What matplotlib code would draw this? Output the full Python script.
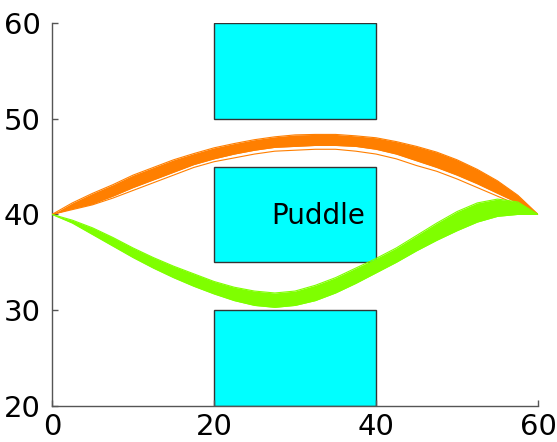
import numpy as np
import matplotlib
matplotlib.use('Agg')
import matplotlib.pyplot as plt
from matplotlib.patches import Rectangle

# sample positions along the course
x = np.arange(0, 60.01, 2.5)

# orange bundle (path above the puddle)
orange_top = [40.0, 41.2, 42.2, 43.1, 44.1, 44.9, 45.7, 46.35, 46.95, 47.4, 47.8, 48.1, 48.3,
              48.35, 48.35, 48.2, 48.0, 47.6, 47.1, 46.5, 45.7, 44.7, 43.5, 42.0, 40.0]
orange_bottom = [40.0, 40.6, 41.1, 41.9, 42.8, 43.6, 44.4, 45.2, 45.8, 46.3, 46.7, 47.0, 47.1,
                 47.2, 47.2, 47.1, 46.8, 46.3, 45.6, 44.9, 44.1, 43.2, 42.2, 41.2, 40.0]
orange_strand = [40.0, 40.5, 41.0, 41.7, 42.5, 43.3, 44.1, 44.9, 45.5, 45.9, 46.3, 46.6, 46.7,
                 46.8, 46.8, 46.6, 46.3, 45.8, 45.1, 44.5, 43.7, 42.8, 41.9, 41.0, 40.0]

# green bundle (path below the puddle)
green_top = [40.0, 39.4, 38.6, 37.6, 36.5, 35.5, 34.6, 33.8, 33.0, 32.4, 32.0, 31.8, 32.0,
             32.6, 33.4, 34.4, 35.4, 36.5, 37.8, 39.1, 40.3, 41.2, 41.6, 41.3, 40.0]
green_bottom = [40.0, 39.1, 37.9, 36.7, 35.5, 34.4, 33.4, 32.5, 31.7, 31.0, 30.5, 30.3, 30.5,
                31.0, 31.8, 32.8, 33.9, 35.0, 36.2, 37.3, 38.3, 39.2, 39.8, 40.0, 40.0]

# obstacles: (x0, y0, width, height)
obstacles = [(20, 50, 20, 10), (20, 35, 20, 10), (20, 20, 20, 10)]
label = 'Puddle'

fig = plt.figure(figsize=(5.57, 4.42), dpi=100)
ax = fig.add_axes([0.0934, 0.0814, 0.8726, 0.867])

for (x0, y0, w, h) in obstacles:
    ax.add_patch(Rectangle((x0, y0), w, h, facecolor='#00ffff', edgecolor='#333333',
                           linewidth=1.0, zorder=1))
ax.text(38.7, 39.8, label, fontsize=20, ha='right', va='center', zorder=2)

orange = '#ff7f00'
green = '#7fff00'
ax.fill_between(x, orange_bottom, orange_top, color=orange, linewidth=0, zorder=3)
ax.plot(x, orange_top, color=orange, lw=0.8, zorder=3)
ax.plot(x, orange_bottom, color=orange, lw=0.8, zorder=3)
ax.plot(x, orange_strand, color=orange, lw=0.8, zorder=3)

ax.fill_between(x, green_bottom, green_top, color=green, linewidth=0, zorder=3)
ax.plot(x, green_top, color=green, lw=0.8, zorder=3)
ax.plot(x, green_bottom, color=green, lw=0.8, zorder=3)

ax.set_xlim(0, 60)
ax.set_ylim(20, 60)
ax.set_xticks([0, 20, 40, 60])
ax.set_yticks([20, 30, 40, 50, 60])
ax.spines['top'].set_visible(False)
ax.spines['right'].set_visible(False)
for s in ['left', 'bottom']:
    ax.spines[s].set_color('#555555')
    ax.spines[s].set_linewidth(1.0)
ax.tick_params(direction='in', length=4, width=1, color='#555555', labelsize=21)
ax.tick_params(axis='y', pad=8)
ax.tick_params(axis='x', pad=5)

plt.savefig('out.png', dpi=100)
